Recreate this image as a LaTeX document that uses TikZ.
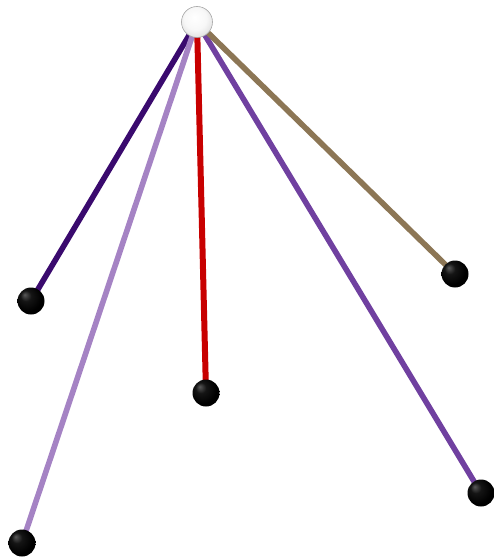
\documentclass[tikz,border=0pt]{standalone}
\usepackage{tikz}
\usetikzlibrary{backgrounds, shadings}
\definecolor{darkviolet}{HTML}{3A0A6E}
\definecolor{lightviolet}{HTML}{A583C4}
\definecolor{stickred}{HTML}{C80000}
\definecolor{midviolet}{HTML}{7040A0}
\definecolor{sticktan}{HTML}{8C7655}
\pgfdeclareradialshading{darkbead}{\pgfpoint{-12bp}{12bp}}{%
  color(0bp)=(black!65); color(10bp)=(black!92); color(25bp)=(black); color(50bp)=(black)}
\pgfdeclareradialshading{whitehub}{\pgfpoint{-4bp}{8bp}}{%
  color(0bp)=(white); color(18bp)=(white!97!black); color(34bp)=(white!85!black);
  color(46bp)=(white!62!black); color(60bp)=(white!50!black)}
\tikzstyle{stick} = [
  line width=5.6pt, line cap=round
]

\begin{document}
\begin{tikzpicture}[
  x=1pt, y=-1pt,
  hub/.style={circle, inner sep=0pt, minimum size=31pt, shading=whitehub,
              draw=black!35, line width=0.6pt},
  bead/.style={circle, inner sep=0pt, minimum size=27pt, shading=darkbead},
]
  \useasboundingbox (0,0) rectangle (493,559);
  \node[hub]  (top)   at (197,22)  {};
  \node[bead] (left)  at (31,301)  {};
  \node[bead] (low)   at (22,543)  {};
  \node[bead] (mid)   at (206,393) {};
  \node[bead] (right) at (455,274) {};
  \node[bead] (far)   at (481,493) {};

  \begin{pgfonlayer}{background}
    \draw[stick, darkviolet]  (top.center) -- (left.center);
    \draw[stick, lightviolet] (top.center) -- (low.center);
    \draw[stick, stickred, line width=6pt] (top.center) -- (mid.center);
    \draw[stick, midviolet]   (top.center) -- (far.center);
    \draw[stick, sticktan]    (top.center) -- (right.center);
  \end{pgfonlayer}
\end{tikzpicture}
\end{document}
